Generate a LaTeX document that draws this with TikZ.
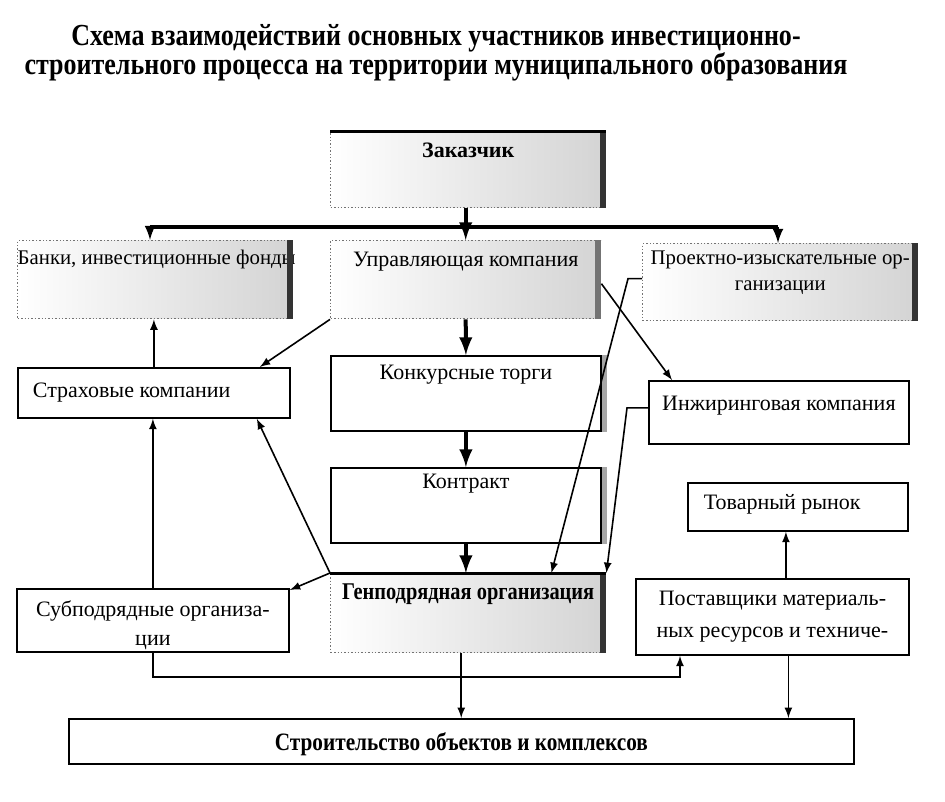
\documentclass[tikz,border=0pt]{standalone}
\usepackage{fontspec}
\setmainfont{Liberation Serif}
\newfontfamily\narrowfont[FakeStretch=0.85]{Liberation Serif}

% text block of fixed size inside a box: width, height, top gap, text
\newcommand{\intext}[4]{\vbox to #2{\hsize=#1\relax\parindent=0pt\vskip#3\relax#4\par\vfil}}

\begin{document}
\begin{tikzpicture}[x=0.5pt,y=-0.5pt,
        every node/.style={inner sep=0pt, anchor=north west, font=\fontsize{11}{13}\selectfont},
        plainbox/.style={draw=black, line width=0.9pt, fill=white},
        flatbox/.style={draw=black, line width=0.9pt, fill=white},
        shadebox/.style={draw=black!55, densely dotted, line width=0.7pt, left color=white, right color=black!17},
        link/.style={line width=0.8pt, -latex},
        mainlink/.style={line width=2pt, -latex},
        buslink/.style={line width=1.4pt, -latex}]
        \useasboundingbox (0,0) rectangle (945,801);

        \node[anchor=center, align=center, font={\narrowfont\bfseries\fontsize{15.3}{14.5}\selectfont}] (title) at (436,53)
            {Схема взаимодействий основных участников инвестиционно-\\строительного процесса на территории муниципального образования};

        % upper row
        \node[shadebox] (zak) at (330,132) {\intext{137.5pt}{37.5pt}{5pt}{\centering\bfseries Заказчик}};
        \node[shadebox] (bank) at (17,240) {\intext{137.5pt}{39pt}{4.5pt}{\fontsize{10.4}{13}\selectfont\mbox{Банки, инвестиционные фонды}}};
        \node[shadebox] (upr) at (330,240) {\intext{135pt}{39pt}{5.5pt}{\centering Управляющая компания}};
        \node[shadebox] (proekt) at (642,243) {\intext{137.5pt}{38.5pt}{3.5pt}{\fontsize{10.4}{13}\selectfont\centering Проектно-изыскательные ор-\\ганизации}};
        \fill[black!80] ([xshift=-3pt]zak.north east) rectangle (zak.south east);
        \draw[line width=1.5pt] (zak.north west) -- (zak.north east);
        \fill[black!80] ([xshift=-3pt]bank.north east) rectangle (bank.south east);
        \fill[black!55] ([xshift=-3pt]upr.north east) rectangle (upr.south east);
        \fill[black!80] ([xshift=-3pt]proekt.north east) rectangle (proekt.south east);

        % middle
        \node[plainbox] (strah) at (17,367) {\intext{136pt}{25pt}{7.5pt}{\hspace*{7.5pt}Страховые компании}};
        \node[flatbox] (konk) at (330,355) {\intext{135pt}{37.5pt}{4.5pt}{\centering Конкурсные торги}};
        \node[flatbox] (kontr) at (330,467) {\intext{135pt}{37.5pt}{3pt}{\centering Контракт}};
        \fill[black!35] (konk.north east) rectangle ([xshift=2.5pt]konk.south east);
        \fill[black!35] (kontr.north east) rectangle ([xshift=2.5pt]kontr.south east);
        \node[plainbox] (engin) at (648,380) {\intext{130pt}{31.5pt}{7.5pt}{\centering Инжиринговая компания}};
        \node[plainbox] (tovar) at (687,482) {\intext{110pt}{24pt}{6pt}{\hspace*{8pt}Товарный рынок}};

        % lower row
        \node[plainbox] (subp) at (16,588) {\intext{136pt}{31.5pt}{6pt}{\baselineskip=14.5pt\centering Субподрядные организа-\\ции}};
        \node[shadebox] (genp) at (330,573) {\intext{137.5pt}{39.5pt}{5pt}{\centering\narrowfont\bfseries\fontsize{12}{14}\selectfont Генподрядная организация}};
        \fill[black!80] ([xshift=-3pt]genp.north east) rectangle (genp.south east);
        \draw[line width=1.5pt] (genp.north west) -- (genp.north east);
        \node[plainbox] (post) at (635,578) {\intext{136.5pt}{38pt}{6pt}{\baselineskip=16pt\centering Поставщики материаль-\\ных ресурсов и техниче-}};
        \node[plainbox] (stroi) at (68,718) {\intext{392.5pt}{22.5pt}{7pt}{\centering\narrowfont\bfseries\fontsize{12.5}{14}\selectfont Строительство объектов и комплексов}};

        % connectors
        \coordinate (busL) at (150,227);
        \coordinate (busR) at (778,227);
        \draw[line width=1.6pt] (busL) -- (busR);
        \draw[mainlink] (upr.north |- zak.south) -- (upr.north);
        \draw[buslink] (busL) -- (busL |- bank.north);
        \draw[buslink] (busR) -- (busR |- proekt.north);
        \draw[mainlink] (upr.south) -- (konk.north);
        \draw[mainlink] (konk.south) -- (kontr.north);
        \draw[mainlink] (kontr.south) -- (kontr.south |- genp.north);

        \draw[link] (upr.south west) -- ([xshift=-15.5pt]strah.north east);
        \draw[link] (strah.north) -- (strah.north |- bank.south);
        \draw[link] (subp.north) -- (subp.north |- strah.south);
        \draw[link] (genp.north west) -- ([xshift=-17pt]strah.south east);
        \draw[link] (genp.north west) -- ([yshift=-1pt]subp.north east);
        \draw[link] ([yshift=-2pt]upr.east) -- ([xshift=12pt]engin.north west);
        \draw[link] ([yshift=1.75pt]proekt.west) -- ++(-14,0) -- ([xshift=-27.5pt]genp.north east);
        \draw[link] ([yshift=2.25pt]engin.west) -- ++(-21,0) -- (genp.north east);
        \draw[link] ([xshift=6.75pt]post.north) -- ([xshift=6.75pt]post.north |- tovar.south);

        \coordinate (loop) at (680,677);
        \draw[link] (subp.south) |- (loop) -- (loop |- post.south);
        \draw[link] ([xshift=-3.5pt]genp.south) -- ([xshift=-3.5pt]genp.south |- stroi.north);
        \draw[link] ([xshift=8pt]post.south) -- ([xshift=8pt]post.south |- stroi.north);
\end{tikzpicture}
\end{document}
